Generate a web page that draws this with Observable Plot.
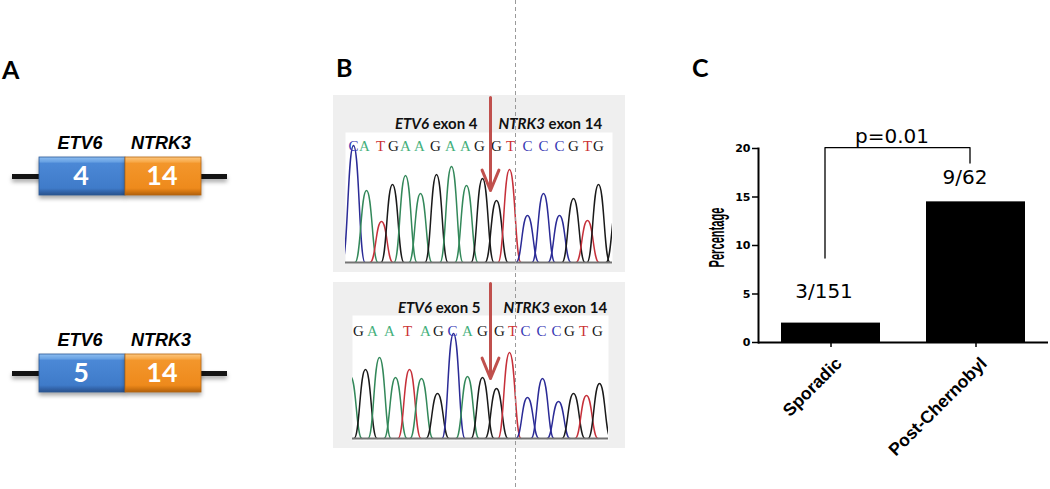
<!DOCTYPE html>
<html>
<head>
<meta charset="utf-8">
<script src="https://cdn.jsdelivr.net/npm/d3@7"></script>
<script src="https://cdn.jsdelivr.net/npm/@observablehq/plot@0.6"></script>
<style>
  html, body { margin: 0; padding: 0; background: #fff; }
  #fig { position: relative; width: 1050px; height: 489px; overflow: hidden; background: #fff; }
  #fig > * { position: absolute; }
  .panel-letter { font-family: Lato, "Open Sans", sans-serif; font-weight: bold; font-size: 25px; line-height: 25px; color: #000; }
  #guide { left: 515px; top: 0; width: 1px; height: 489px;
           background: repeating-linear-gradient(to bottom, #9a9a9a 0 4px, transparent 4px 7px); }
</style>
</head>
<body>
<div id="fig"></div>
<script>
// ---------------- Panel A data: fusion transcripts ----------------
const fusionRows = ["ETV6 ex4 - NTRK3 ex14", "ETV6 ex5 - NTRK3 ex14"];
const partnerGenes = ["ETV6", "NTRK3"];
const etv6Exons = [4, 5];
const ntrk3Exons = [14, 14];

// ---------------- Panel B data: Sanger traces ----------------
const baseOrder = ["A", "C", "G", "T"];
// trace 1 (ETV6 exon 4 / NTRK3 exon 14)
const trace1Calls   = ["C","A","T","G","A","A","G","A","A","G","G","T","C","C","C","G","T","G"];
const trace1CallPos = [8, 19, 35, 48, 60, 74, 90, 105, 120, 134, 151, 165, 182, 198, 214, 228, 242, 253];
const trace1PeakBase = ["C","A","T","G","A","A","G","A","A","G","G","T","C","C","C","G","T","G","G"];
const trace1PeakPos  = [8, 21, 36, 47, 60, 75, 91, 106, 121, 137, 151, 164, 182, 198, 214, 228, 242, 253, 272];
const trace1PeakH    = [117, 72, 41, 78, 87, 69, 88, 96, 77, 84, 62, 93, 47, 69, 47, 64, 42, 78, 60];
const trace1Junction = 145;
// trace 2 (ETV6 exon 5 / NTRK3 exon 14)
const trace2Calls   = ["G","A","A","T","A","G","C","A","G","G","T","C","C","C","G","T","G"];
const trace2CallPos = [6, 20, 37, 55, 73, 86, 100, 115, 130, 147, 160, 173, 189, 204, 217, 231, 245];
const trace2PeakBase = ["A","G","A","A","T","A","G","C","A","G","G","T","C","C","C","G","T","G"];
const trace2PeakPos  = [-2, 13, 27, 43, 57, 69, 85, 101, 115, 130, 144, 157, 175, 190, 206, 221, 234, 247];
const trace2PeakH    = [62, 69, 81, 61, 69, 60, 45, 105, 62, 61, 50, 86, 41, 60, 37, 45, 43, 55];
const trace2Junction = 138;

// ---------------- Panel C data: frequency ----------------
const groups = ["Sporadic", "Post-Chernobyl"];
const percentages = [2.0, 14.5];
const fractionLabels = ["3/151", "9/62"];
const pLabel = "p=0.01";
const yTicks = [0, 5, 10, 15, 20];

// ---------------- styles ----------------
const traceColors  = ["#33885a", "#2b2b96", "#1a1a1a", "#c6303a"];
const letterColors = ["#45b07c", "#3838b4", "#1a1a1a", "#cc3333"];
const peakHalfWidth = 11.5;
const ns = "http://www.w3.org/2000/svg";
const fig = document.getElementById("fig");

function place(el, left, top) {
  el.style.position = "absolute";
  el.style.left = left + "px";
  el.style.top = top + "px";
  fig.appendChild(el);
  return el;
}
function letter(t, left, top) {
  const d = document.createElement("div");
  d.className = "panel-letter";
  d.textContent = t;
  place(d, left, top);
}

// ---------------- Panel A ----------------
const geneCells = fusionRows.flatMap((row, i) => [
  {row, gene: partnerGenes[0], exon: etv6Exons[i]},
  {row, gene: partnerGenes[1], exon: ntrk3Exons[i]}
]);
const panelA = Plot.plot({
  width: 240, height: 489,
  marginLeft: 12, marginRight: 13, marginTop: 157, marginBottom: 96,
  x: {domain: partnerGenes, paddingInner: 0, paddingOuter: 0.311, axis: null},
  y: {domain: fusionRows, paddingInner: 0.806, paddingOuter: 0, axis: null},
  style: {background: "transparent", overflow: "visible"},
  marks: [
    Plot.ruleY(fusionRows, {y: d => d, stroke: "#141414", strokeWidth: 5}),
    Plot.cell(geneCells.filter(d => d.gene === partnerGenes[0]),
      {x: "gene", y: "row", fill: "url(#etv6Grad)", stroke: "#2c5a98", strokeWidth: 0.8, insetRight: -5}),
    Plot.cell(geneCells.filter(d => d.gene === partnerGenes[1]),
      {x: "gene", y: "row", fill: "url(#ntrk3Grad)", stroke: "#b9680f", strokeWidth: 0.8, insetLeft: 5}),
    Plot.text(geneCells, {x: "gene", y: "row", text: d => String(d.exon), fill: "white",
      fontFamily: "Lato, 'Open Sans', sans-serif", fontWeight: "bold", fontSize: 27, dx: 1}),
    Plot.text(geneCells, {x: "gene", y: "row", text: "gene", dy: -33, fill: "black",
      fontFamily: "'Liberation Sans', Arial, sans-serif", fontWeight: "bold", fontStyle: "italic", fontSize: 18})
  ]
});
panelA.insertAdjacentHTML("afterbegin", `<defs>
  <linearGradient id="etv6Grad" x1="0" y1="0" x2="0" y2="1">
    <stop offset="0" stop-color="#8dbdf0"/><stop offset="0.12" stop-color="#6aa3e4"/>
    <stop offset="0.17" stop-color="#4b88d6"/><stop offset="0.82" stop-color="#3f7bc9"/>
    <stop offset="0.9" stop-color="#3467ae"/><stop offset="1" stop-color="#2a528c"/>
  </linearGradient>
  <linearGradient id="ntrk3Grad" x1="0" y1="0" x2="0" y2="1">
    <stop offset="0" stop-color="#fcc67e"/><stop offset="0.12" stop-color="#f8ab4c"/>
    <stop offset="0.17" stop-color="#f3962b"/><stop offset="0.82" stop-color="#ee8a1c"/>
    <stop offset="0.9" stop-color="#d67812"/><stop offset="1" stop-color="#b0600c"/>
  </linearGradient></defs>`);
panelA.querySelectorAll('g[aria-label="cell"], g[aria-label="rule"]').forEach(g => {
  g.style.filter = "drop-shadow(0px 3px 2px rgba(0,0,0,0.35))";
});
place(panelA, 0, 0);

// ---------------- Panel B ----------------
function styleGeneLabels(svg) {
  svg.querySelectorAll("text").forEach(t => {
    const m = t.textContent.match(/^(ETV6|NTRK3)( exon \d+)$/);
    if (!m) return;
    while (t.firstChild) t.removeChild(t.firstChild);
    const a = document.createElementNS(ns, "tspan");
    a.setAttribute("font-style", "italic");
    a.textContent = m[1];
    const b = document.createElementNS(ns, "tspan");
    b.textContent = m[2];
    t.append(a, b);
  });
}
function chromatogram(o) {
  const pts = o.peakPos.flatMap((p, i) => [
    {id: i, base: o.peakBase[i], x: p - peakHalfWidth, y: 0},
    {id: i, base: o.peakBase[i], x: p, y: o.peakH[i]},
    {id: i, base: o.peakBase[i], x: p + peakHalfWidth, y: 0}
  ]);
  const calls = o.calls.map((b, i) => ({base: b, x: o.callPos[i]}));
  const labelFont = {fontFamily: "Lato, 'Open Sans', sans-serif", fontWeight: "bold", fontSize: 15, fill: "#111"};
  const svg = Plot.plot({
    width: o.width, height: o.height,
    marginLeft: o.ml, marginRight: o.mr, marginTop: o.mt, marginBottom: o.mb,
    x: {domain: o.xDomain, axis: null},
    y: {domain: o.yDomain, axis: null, insetBottom: o.inset},
    color: {domain: baseOrder, range: traceColors},
    style: {background: "#efefef", overflow: "visible"},
    marks: [
      Plot.frame({fill: "white", stroke: "none"}),
      Plot.line(pts, {x: "x", y: "y", z: "id", stroke: "base", strokeWidth: 1.5, curve: "bump-x", clip: true}),
      Plot.ruleY([0], {stroke: "#747474", strokeWidth: 2}),
      ...baseOrder.map((b, k) => Plot.text(calls.filter(d => d.base === b), {
        x: "x", text: "base", frameAnchor: "top", dy: o.callDy, fill: letterColors[k],
        fontFamily: "'Liberation Serif', 'Times New Roman', serif", fontSize: 15})),
      Plot.text([o.junction], {x: d => d, text: () => o.leftLabel, frameAnchor: "top", dy: o.labelDy,
        textAnchor: "end", dx: o.leftDx, ...labelFont}),
      Plot.text([o.junction], {x: d => d, text: () => o.rightLabel, frameAnchor: "top", dy: o.labelDy,
        textAnchor: "start", dx: o.rightDx, ...labelFont}),
      Plot.arrow([o.junction], {x1: d => d, x2: d => d, y1: o.arrowFrom, y2: o.arrowTo,
        stroke: "#c0504d", strokeWidth: 3, headLength: 11, headAngle: 45})
    ]
  });
  styleGeneLabels(svg);
  return svg;
}
place(chromatogram({
  width: 292, height: 177, ml: 12, mr: 13, mt: 37, mb: 9,
  xDomain: [0, 267], yDomain: [0, 130], inset: 1,
  calls: trace1Calls, callPos: trace1CallPos,
  peakBase: trace1PeakBase, peakPos: trace1PeakPos, peakH: trace1PeakH,
  junction: trace1Junction, callDy: 8, labelDy: -14, leftDx: -13, rightDx: 8,
  leftLabel: "ETV6 exon 4", rightLabel: "NTRK3 exon 14", arrowFrom: 165, arrowTo: 72
}), 333, 95);
place(chromatogram({
  width: 292, height: 166, ml: 19, mr: 17, mt: 33, mb: 8,
  xDomain: [0, 256], yDomain: [0, 123], inset: 2,
  calls: trace2Calls, callPos: trace2CallPos,
  peakBase: trace2PeakBase, peakPos: trace2PeakPos, peakH: trace2PeakH,
  junction: trace2Junction, callDy: 10, labelDy: -13, leftDx: -10, rightDx: 13,
  leftLabel: "ETV6 exon 5", rightLabel: "NTRK3 exon 14", arrowFrom: 155, arrowTo: 60
}), 333, 282);

// ---------------- Panel C ----------------
const barTable = groups.map((g, i) => ({group: g, pct: percentages[i], label: fractionLabels[i]}));
const bracketTop = 20.1;
const bracket = [
  {group: groups[0], y: 8.7}, {group: groups[0], y: bracketTop},
  {group: groups[1], y: bracketTop}, {group: groups[1], y: 18.5}
];
const numFont = {fontFamily: "'DejaVu Sans', sans-serif", fontSize: 20, fill: "black"};
const panelC = Plot.plot({
  width: 360, height: 449,
  marginLeft: 68, marginRight: 2, marginTop: 108, marginBottom: 147,
  x: {domain: groups, paddingInner: 0.32, paddingOuter: 0.16, axis: null},
  y: {domain: [0, 20], axis: null},
  style: {background: "transparent", overflow: "visible"},
  marks: [
    Plot.barY(barTable, {x: "group", y: "pct", fill: "black"}),
    Plot.frame({anchor: "left", stroke: "black", strokeWidth: 2}),
    Plot.ruleY([0], {stroke: "black", strokeWidth: 2}),
    Plot.axisY({ticks: yTicks, tickSize: 6, tickPadding: 2, strokeWidth: 1.5, label: null,
      fontWeight: "bold", fontSize: 11, fontFamily: "'DejaVu Sans', sans-serif"}),
    Plot.axisX({tickSize: 5, tickFormat: () => "", strokeWidth: 1.5, label: null}),
    Plot.text(groups, {x: d => d, text: d => d, frameAnchor: "bottom", rotate: -45, textAnchor: "end",
      lineAnchor: "bottom", dx: 12, dy: 22, fontWeight: "bold", fontSize: 17.5,
      fontFamily: "'Liberation Sans', Arial, sans-serif"}),
    Plot.text(["Percentage"], {text: d => d, frameAnchor: "left", dx: -42, dy: 22, rotate: -90,
      fontWeight: "bold", fontSize: 22, fontFamily: "'Liberation Sans', Arial, sans-serif"}),
    Plot.text(barTable.slice(0, 1), {x: "group", y: "pct", text: "label", dx: -7, dy: -32, ...numFont}),
    Plot.text(barTable.slice(1), {x: "group", y: "pct", text: "label", dx: -11, dy: -24, ...numFont}),
    Plot.line(bracket, {x: "group", y: "y", stroke: "black", strokeWidth: 1.3, dx: -6}),
    Plot.text([pLabel], {x: () => groups[0], y: () => bracketTop, text: d => d, textAnchor: "start",
      dx: 24, dy: -11, ...numFont})
  ]
});
panelC.querySelectorAll("text").forEach(t => {
  if (t.textContent === "Percentage") {
    t.setAttribute("textLength", "60");
    t.setAttribute("lengthAdjust", "spacingAndGlyphs");
  }
});
place(panelC, 690, 40);

// panel letters and the vertical guide
letter("A", 2, 57);
letter("B", 336, 55);
letter("C", 692, 55);
const guide = document.createElement("div");
guide.id = "guide";
fig.appendChild(guide);
</script>
</body>
</html>
